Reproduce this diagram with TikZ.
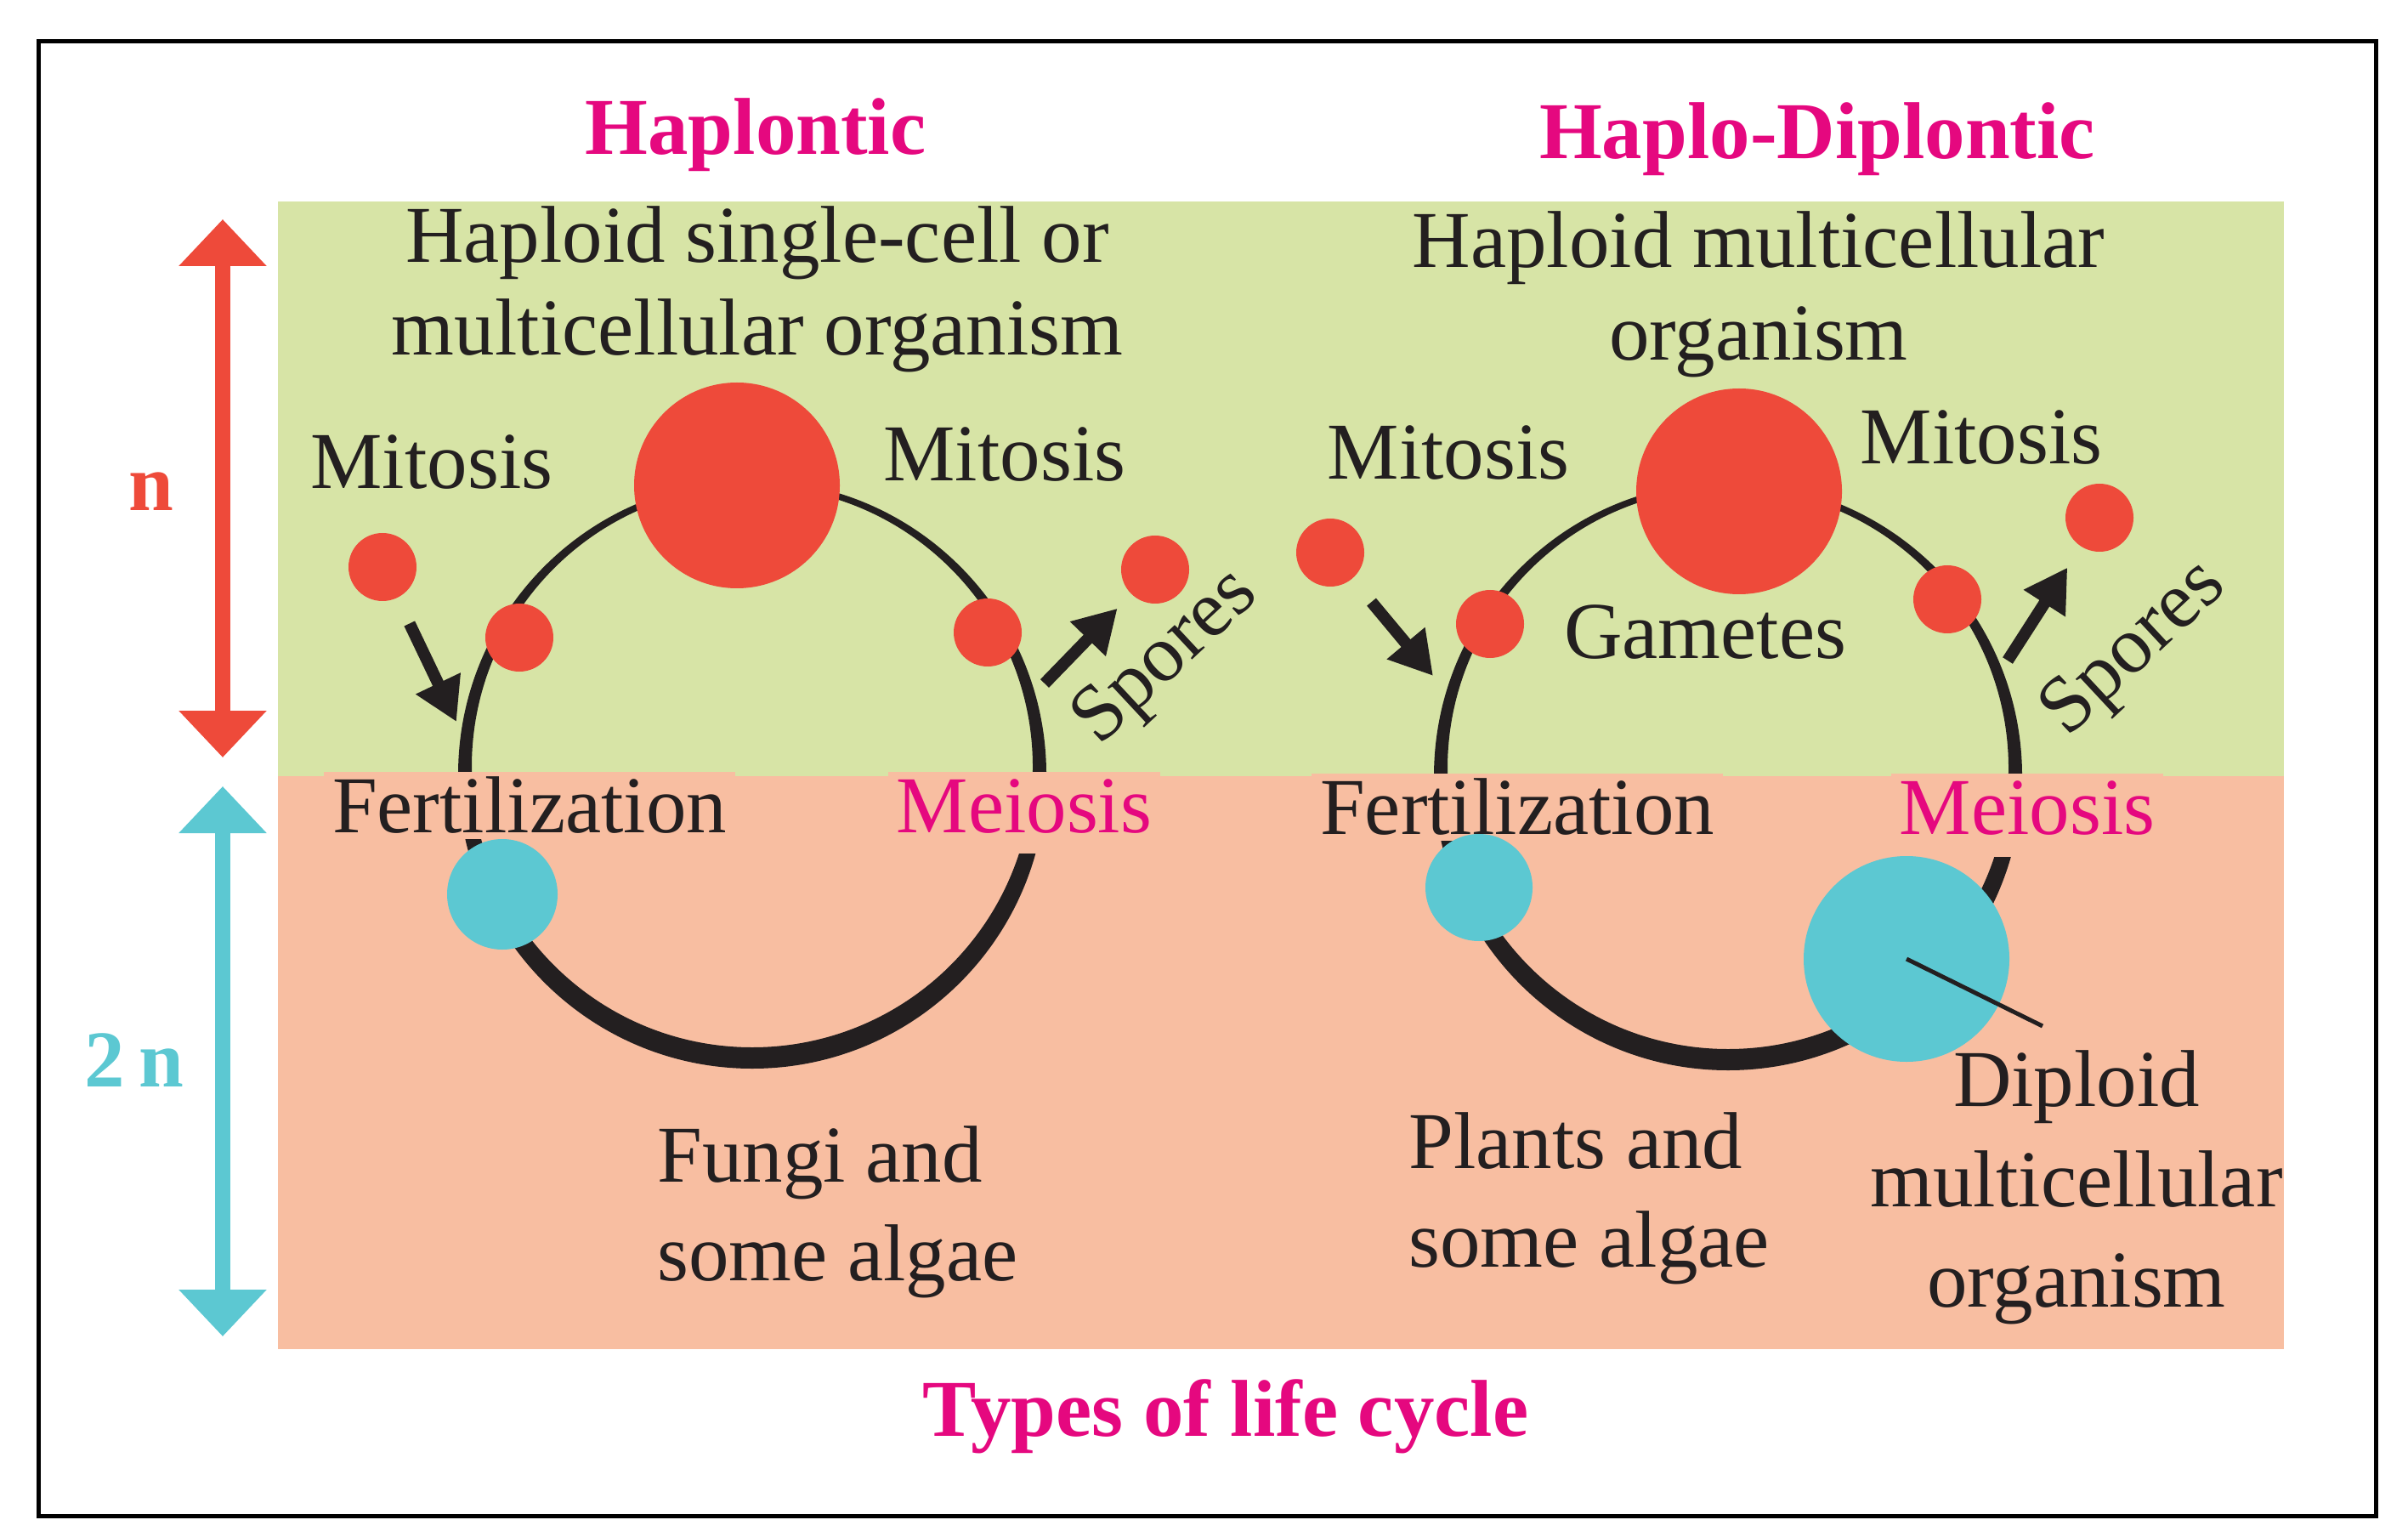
\documentclass[tikz,border=0pt]{standalone}
\usepackage{fontspec}
\setmainfont{Liberation Serif}
\usepackage{tikz}
\usetikzlibrary{arrows.meta,positioning}
\definecolor{band}{RGB}{215,228,166}
\definecolor{salmon}{RGB}{248,190,161}
\definecolor{cellred}{RGB}{238,74,58}
\definecolor{cellcyan}{RGB}{92,200,210}
\definecolor{ink}{RGB}{35,31,32}
\definecolor{headline}{RGB}{229,8,127}
\tikzset{
    % Define standard arrow tip
    >={Triangle[width=0.55cm,length=0.5cm]},
    % small black arrows
    pil/.style={
           ->,
           line width=0.14cm,
           ink,
           },
    % ploidy arrows on the left
    ploidy/.style={
           arrows={Triangle[width=1cm,length=0.55cm]-Triangle[width=1cm,length=0.55cm]},
           line width=0.18cm,
           draw=#1,
           },
    hap/.style={circle,fill=cellred,inner sep=0pt,minimum size=#1},
    dip/.style={circle,fill=cellcyan,inner sep=0pt,minimum size=#1},
    lbl/.style={text=ink,font=\fontsize{27}{31}\selectfont,align=center},
    ttl/.style={text=headline,font=\bfseries\fontsize{27}{31}\selectfont},
    patch/.style={lbl,fill=salmon,anchor=base,inner sep=0pt,inner xsep=0.1cm,
           text height=0.71cm,text depth=#1},
}

\begin{document}
\begin{tikzpicture}
	\useasboundingbox (0,0) rectangle (28.33,-18.08);
	\draw[line width=0.05cm] (0.45,-0.49) rectangle (27.95,-17.83);
	% haploid and diploid bands
	\fill[band] (3.27,-2.37) rectangle (26.87,-9.13);
	\fill[salmon] (3.27,-9.13) rectangle (26.87,-15.87);
	% ploidy arrows
	\coordinate (nt) at (2.62,-2.58);
	\coordinate (nb) at (2.62,-8.91);
	\coordinate (dt) at (2.62,-9.25);
	\coordinate (db) at (2.62,-15.72);
	\draw[ploidy=cellred] (nt) -- (nb);
	\draw[ploidy=cellcyan] (dt) -- (db);
	\node (n1) at (1.78,-5.78) [text=cellred,font=\bfseries\fontsize{27}{31}\selectfont] {n};
	\node (n2) at (1.58,-12.47) [text=cellcyan,font=\bfseries\fontsize{27}{31}\selectfont] {2\,n};
	% the two cycles
	\coordinate (lc) at (8.85,-9.11);
	\coordinate (rc) at (20.33,-9.13);
	\fill[ink,even odd rule] (lc) circle[radius=3.46cm] ([yshift=0.09cm]lc) circle[radius=3.30cm];
	\fill[ink,even odd rule] (rc) circle[radius=3.46cm] ([yshift=0.09cm]rc) circle[radius=3.30cm];
	% labels that cut the cycles
	\node (f1) at (6.23,-9.79) [patch=0.08cm] {Fertilization};
	\node (me1) at (12.05,-9.79) [patch=0.25cm,text=headline] {Meiosis};
	\node (f2) at (17.85,-9.81) [patch=0.08cm] {Fertilization};
	\node (me2) at (23.85,-9.81) [patch=0.27cm,text=headline] {Meiosis};
	% cells
	\node (o1) at (8.67,-5.71) [hap=2.42cm] {};
	\node (g1) at (6.11,-7.50) [hap=0.8cm] {};
	\node (m1) at (4.50,-6.67) [hap=0.8cm] {};
	\node (g2) at (11.62,-7.44) [hap=0.8cm] {};
	\node (sp1) at (13.59,-6.70) [hap=0.8cm] {};
	\node (z1) at (5.91,-10.52) [dip=1.3cm] {};
	\node (o2) at (20.46,-5.78) [hap=2.42cm] {};
	\node (g3) at (17.53,-7.34) [hap=0.8cm] {};
	\node (m2) at (15.65,-6.50) [hap=0.8cm] {};
	\node (g4) at (22.91,-7.05) [hap=0.8cm] {};
	\node (sp2) at (24.70,-6.09) [hap=0.8cm] {};
	\node (z2) at (17.40,-10.44) [dip=1.26cm] {};
	\node (dm) at (22.43,-11.28) [dip=2.42cm] {};
	% arrows
	\coordinate (a1) at (5.37,-8.49);
	\coordinate (b1) at (12.29,-8.04);
	\coordinate (a2) at (16.86,-7.95);
	\coordinate (b2) at (23.62,-7.77);
	\coordinate (p1) at (24.03,-12.07);
	\draw [pil,shorten <=0.33cm] (m1) -- (a1);
	\draw [pil,shorten >=0.23cm] (b1) -- (sp1);
	\draw [pil,shorten <=0.35cm] (m2) -- (a2);
	\draw [pil,shorten >=0.29cm] (b2) -- (sp2);
	\draw [line width=0.05cm,ink] (dm.center) -- (p1);
	% texts
	\node (t1) at (8.89,-1.59) [ttl] {Haplontic};
	\node (t2) at (21.38,-1.64) [ttl] {Haplo-Diplontic};
	\node (t3) at (14.42,-16.66) [ttl] {Types of life cycle};
	\node (h1) at (8.91,-3.40) [lbl] {Haploid single-cell or\\multicellular organism};
	\node (h2) at (20.69,-3.46) [lbl] {Haploid multicellular\\organism};
	\node (mi1) at (5.08,-5.44) [lbl] {Mitosis};
	\node (mi2) at (11.82,-5.35) [lbl] {Mitosis};
	\node (mi3) at (17.04,-5.33) [lbl] {Mitosis};
	\node (mi4) at (23.31,-5.15) [lbl] {Mitosis};
	\node (ga) at (20.06,-7.44) [lbl] {Gametes};
	\node (s1) at (13.73,-7.75) [lbl,rotate=43,inner sep=0pt] {Spores};
	\node (s2) at (25.12,-7.65) [lbl,rotate=43,inner sep=0pt] {Spores};
	\node (e1) at (7.61,-14.26) [lbl,anchor=west,align=left,font=\fontsize{27}{33}\selectfont] {Fungi and\\some algae};
	\node (e2) at (16.45,-14.10) [lbl,anchor=west,align=left,font=\fontsize{27}{33}\selectfont] {Plants and\\some algae};
	\node (e3) at (24.43,-13.97) [lbl,font=\fontsize{27}{33.5}\selectfont] {Diploid\\multicellular\\organism};
\end{tikzpicture}
\end{document}
